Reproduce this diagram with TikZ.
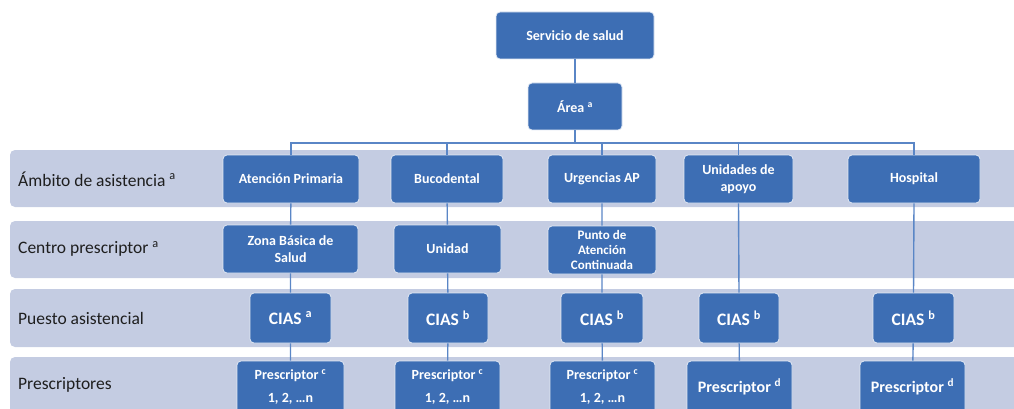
\documentclass[tikz,border=0pt]{standalone}
\usepackage{fontspec}
\setmainfont{Carlito}
\usepackage{tikz}
\usetikzlibrary{positioning}
\definecolor{BoxBlue}{HTML}{3D6EB4}
\definecolor{BandGray}{HTML}{C4CCE2}
\definecolor{LinkBlue}{HTML}{5A86C6}
\definecolor{LabelInk}{HTML}{1E1E1E}
\tikzset{
  % Horizontal band behind each level
  band/.style={fill=BandGray, draw=none, rounded corners=5pt},
  % Blue unit box, size given per node
  unit/.style={
    rectangle, rounded corners=4pt,
    draw=white!85!BoxBlue, line width=0.8pt, fill=BoxBlue,
    text=white, align=center, inner sep=1pt,
    font=\bfseries\fontsize{14}{17}\selectfont
  },
  % Row label on the left
  rowlbl/.style={anchor=west, text=LabelInk, inner sep=0pt,
    font=\fontsize{17.5}{20}\selectfont},
  % Connector line
  link/.style={draw=LinkBlue, line width=1.4pt}
}
\begin{document}
\begin{tikzpicture}[x=1pt,y=-1pt]
  \useasboundingbox (0,0) rectangle (1014,409);
  \clip (0,0) rectangle (1014,409);

  % bands
  \fill[band] (10,150) rectangle (1030,207);
  \fill[band] (10,221) rectangle (1030,278);
  \fill[band] (10,289) rectangle (1030,347);
  \fill[band] (10,357) rectangle (1030,430);

  \node[rowlbl] (lamb)  at (18,179) {Ámbito de asistencia \textsuperscript{a}};
  \node[rowlbl] (lcen)  at (18,249) {Centro prescriptor \textsuperscript{a}};
  \node[rowlbl] (lpue)  at (18,318) {Puesto asistencial};
  \node[rowlbl] (lpre)  at (18,385) {Prescriptores};

  % top
  \node[unit, minimum width=158pt, minimum height=47pt] (salud) at (575,35.5) {Servicio de salud};
  \node[unit, minimum width=94pt,  minimum height=47pt] (area)  at (575,106.5) {Área \textsuperscript{a}};
  \coordinate (bus) at (575,143);

  % ambito
  \node[unit, minimum width=136pt, minimum height=48pt] (ap)    at (291,179)   {Atención Primaria};
  \node[unit, minimum width=112pt, minimum height=48pt] (buco)  at (447,179)   {Bucodental};
  \node[unit, minimum width=108pt, minimum height=48pt] (urg)   at (602,179)   {Urgencias AP};
  \node[unit, minimum width=109pt, minimum height=48pt] (apoyo) at (738.5,179) {Unidades de\\apoyo};
  \node[unit, minimum width=132pt, minimum height=48pt] (hosp)  at (914,179)   {Hospital};

  % centro
  \node[unit, minimum width=135pt, minimum height=48pt] (zbs)    at (290.5,249) {Zona Básica de\\Salud};
  \node[unit, minimum width=107pt, minimum height=48pt] (unidad) at (447.5,249) {Unidad};
  \node[unit, minimum width=108pt, minimum height=48pt,
        font=\bfseries\fontsize{13}{15}\selectfont] (pac) at (602,250) {Punto de\\Atención\\Continuada};

  % puesto
  \node[unit, minimum width=81pt, minimum height=50pt, font=\bfseries\fontsize{17.5}{20}\selectfont] (cias1) at (290.5,318) {CIAS \textsuperscript{a}};
  \node[unit, minimum width=80pt, minimum height=50pt, font=\bfseries\fontsize{17.5}{20}\selectfont] (cias2) at (448,318)   {CIAS \textsuperscript{b}};
  \node[unit, minimum width=82pt, minimum height=50pt, font=\bfseries\fontsize{17.5}{20}\selectfont] (cias3) at (602,318)   {CIAS \textsuperscript{b}};
  \node[unit, minimum width=80pt, minimum height=50pt, font=\bfseries\fontsize{17.5}{20}\selectfont] (cias4) at (739,318)   {CIAS \textsuperscript{b}};
  \node[unit, minimum width=81pt, minimum height=50pt, font=\bfseries\fontsize{17.5}{20}\selectfont] (cias5) at (913.5,318) {CIAS \textsuperscript{b}};

  % prescriptores
  \node[unit, minimum width=107pt, minimum height=52pt, font=\bfseries\fontsize{14}{23}\selectfont] (pre1) at (290.5,387) {Prescriptor \textsuperscript{c}\\1, 2, \dots n};
  \node[unit, minimum width=105pt, minimum height=52pt, font=\bfseries\fontsize{14}{23}\selectfont] (pre2) at (447.5,387) {Prescriptor \textsuperscript{c}\\1, 2, \dots n};
  \node[unit, minimum width=105pt, minimum height=52pt, font=\bfseries\fontsize{14}{23}\selectfont] (pre3) at (602.5,387) {Prescriptor \textsuperscript{c}\\1, 2, \dots n};
  \node[unit, minimum width=105pt, minimum height=52pt, font=\bfseries\fontsize{16}{19}\selectfont] (pre4) at (739.5,387) {Prescriptor \textsuperscript{d}};
  \node[unit, minimum width=105pt, minimum height=52pt, font=\bfseries\fontsize{16}{19}\selectfont] (pre5) at (912.5,387) {Prescriptor \textsuperscript{d}};

  % links
  \draw[link] (salud) -- (area);
  \draw[link] (area.south) -- (bus) -| (ap.north);
  \draw[link] (bus) -| (buco.north);
  \draw[link] (bus) -| (urg.north);
  \draw[link] (bus) -| (apoyo.north);
  \draw[link] (bus) -| (hosp.north);
  \draw[link] (ap) -- (zbs) -- (cias1) -- (pre1);
  \draw[link] (buco) -- (unidad) -- (cias2) -- (pre2);
  \draw[link] (urg) -- (pac) -- (cias3) -- (pre3);
  \draw[link] (apoyo.south) -- (cias4.north);
  \draw[link] (cias4) -- (pre4);
  \draw[link] (hosp.south) -- (cias5.north);
  \draw[link] (cias5) -- (pre5);
\end{tikzpicture}
\end{document}
